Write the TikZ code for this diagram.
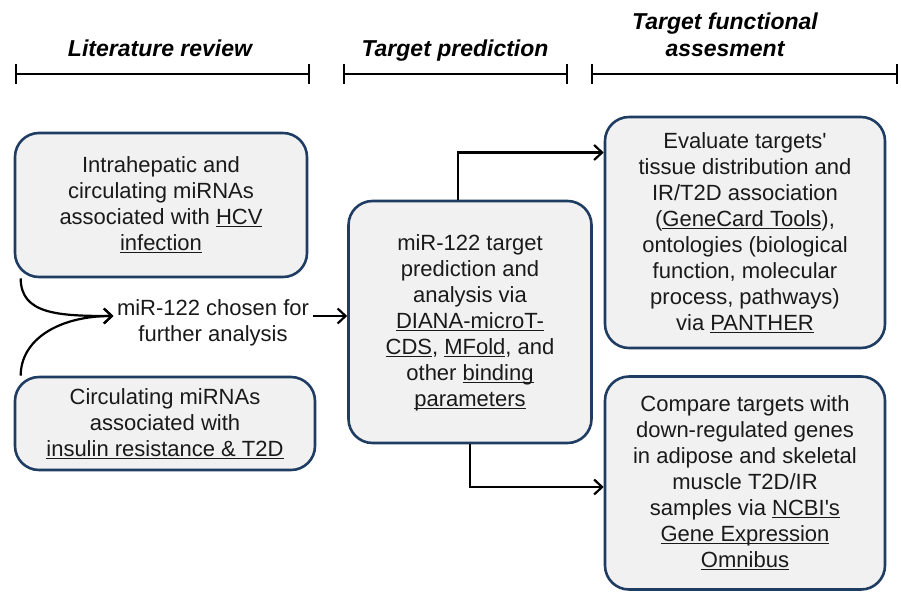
\documentclass[tikz,border=0pt]{standalone}
\usepackage{fontspec}
\setmainfont{Liberation Sans}
\usetikzlibrary{arrows.meta}
\definecolor{boxline}{HTML}{1F3D63}
\definecolor{boxfill}{HTML}{F1F1F1}
\definecolor{inktext}{HTML}{1A1A1A}
\newcommand{\ulink}[1]{\underline{\smash{#1}}}
\tikzset{
  stagebox/.style={draw=boxline, fill=boxfill, line width=2.6pt, rounded corners=24pt,
    align=center, text=inktext, font=\fontsize{22}{26}\selectfont, inner sep=0pt},
  flow/.style={line width=2.2pt, -{Straight Barb[length=8pt,width=15pt]}},
  phase/.style={line width=2.2pt, {Bar[width=20pt]}-{Bar[width=20pt]}},
  phaselabel/.style={font=\fontsize{23}{27}\selectfont\bfseries\itshape, align=center, anchor=base}
}

\begin{document}
\begin{tikzpicture}[x=1pt,y=-1pt]
  \useasboundingbox (0,0) rectangle (901,597);

  % phases of the study
  \node[phaselabel] (litlabel) at (160,56) {Literature review};
  \node[phaselabel] (predlabel) at (455,56) {Target prediction};
  \node[phaselabel] (funclabel) at (725,56) {Target functional\\assesment};
  \draw[phase] (15,74) -- (310,74);
  \draw[phase] (343,74) -- (568,74);
  \draw[phase] (591,74) -- (898,74);

  % boxes
  \node[stagebox, minimum width=292pt, minimum height=144pt] (hcv) at (161,205)
    {Intrahepatic and\\circulating miRNAs\\associated with \ulink{HCV}\\\ulink{infection}};
  \node[stagebox, minimum width=300pt, minimum height=93pt] (ir) at (165,423.5)
    {Circulating miRNAs\\associated with\\\ulink{insulin resistance \& T2D}};
  \node[text=inktext, font=\fontsize{22}{26}\selectfont, align=center] (chosen) at (213,323)
    {miR-122 chosen for\\further analysis};
  \node[stagebox, minimum width=243pt, minimum height=242pt] (predict) at (470,322)
    {miR-122 target\\prediction and\\analysis via\\\ulink{DIANA-microT-}\\\ulink{CDS}, \ulink{MFold}, and\\other \ulink{binding}\\\ulink{parameters}};
  \node[stagebox, minimum width=280pt, minimum height=231pt] (tissue) at (745,232.5)
    {Evaluate targets\textquotesingle\\tissue distribution and\\IR/T2D association\\(\ulink{GeneCard Tools}),\\ontologies (biological\\function, molecular\\process, pathways)\\via \ulink{PANTHER}};
  \node[stagebox, minimum width=280pt, minimum height=213pt] (geo) at (745,483)
    {Compare targets with\\down-regulated genes\\in adipose and skeletal\\muscle T2D/IR\\samples via \ulink{NCBI\textquotesingle s}\\\ulink{Gene Expression}\\\ulink{Omnibus}};

  % arrows
  \draw[flow] ([xshift=7pt]hcv.south west) .. controls ([xshift=7pt,yshift=-36pt]hcv.south west)
    and ([xshift=-55pt,yshift=7pt]chosen.west) .. ([yshift=7pt]chosen.west);
  \draw[flow] ([xshift=7pt]ir.north west) .. controls ([xshift=7pt,yshift=36pt]ir.north west)
    and ([xshift=-55pt,yshift=7pt]chosen.west) .. ([yshift=7pt]chosen.west);
  \draw[flow] ([yshift=7pt]chosen.east) -- ([yshift=6pt]predict.west);
  \draw[flow] ([xshift=-12pt]predict.north) |- ([yshift=80pt]tissue.west);
  \draw[flow] (predict.south) |- ([yshift=-4pt]geo.west);
\end{tikzpicture}
\end{document}
